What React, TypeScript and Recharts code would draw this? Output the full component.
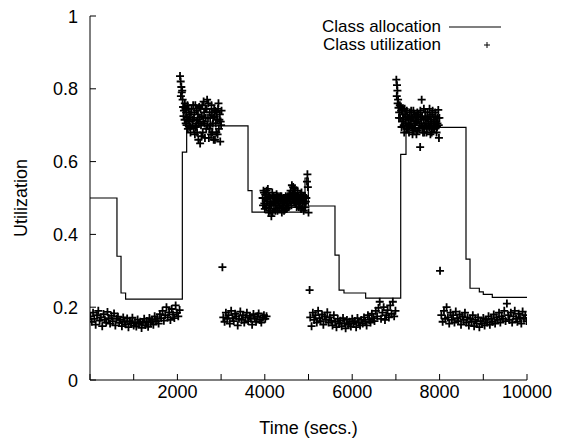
import { ComposedChart, Line, Scatter, XAxis, YAxis, Legend } from 'recharts';

const FONT = '"Liberation Sans", Arial, Helvetica, sans-serif';

// class allocation: step changes (time in secs, allocation share)
const allocTimes = [0, 617, 710, 815, 2113, 2212, 3616, 3707, 4920, 4996, 5606, 5700, 5812, 6308, 7110, 7231, 8604, 8696, 8909, 9000, 9206, 10000];
const allocValues = [0.5, 0.34, 0.239, 0.222, 0.626, 0.698, 0.52, 0.461, 0.555, 0.478, 0.343, 0.247, 0.239, 0.225, 0.62, 0.694, 0.332, 0.252, 0.242, 0.235, 0.227, 0.227];

// class utilization samples, [time, utilization]
const utilLow1: [number, number][] = [
  [10, 0.175], [40, 0.16], [70, 0.185], [100, 0.168], [130, 0.152], [160, 0.178], [190, 0.19], [220, 0.163],
  [250, 0.172], [280, 0.148], [310, 0.181], [340, 0.166], [370, 0.158], [400, 0.187], [430, 0.17], [460, 0.155],
  [490, 0.176], [520, 0.162], [550, 0.183], [580, 0.15], [610, 0.168], [640, 0.174], [670, 0.157], [700, 0.165],
  [730, 0.148], [760, 0.172], [790, 0.16], [820, 0.153], [850, 0.169], [880, 0.145], [910, 0.162], [940, 0.156],
  [970, 0.171], [1000, 0.15], [1030, 0.158], [1060, 0.147], [1090, 0.166], [1120, 0.154], [1150, 0.16], [1180, 0.143],
  [1210, 0.157], [1240, 0.168], [1270, 0.151], [1300, 0.162], [1330, 0.146], [1360, 0.17], [1390, 0.158], [1420, 0.165],
  [1450, 0.152], [1480, 0.175], [1510, 0.162], [1540, 0.168], [1570, 0.155], [1600, 0.181], [1630, 0.17], [1660, 0.19],
  [1690, 0.163], [1720, 0.178], [1750, 0.2], [1780, 0.172], [1810, 0.186], [1840, 0.165], [1870, 0.195], [1900, 0.18],
  [1930, 0.17], [1960, 0.205], [1990, 0.185], [2020, 0.175], [2050, 0.192],
];

const utilHigh1: [number, number][] = [
  [2060, 0.835], [2075, 0.82], [2090, 0.805], [2100, 0.79], [2080, 0.78], [2110, 0.795], [2120, 0.77], [2130, 0.75],
  [2150, 0.74], [2140, 0.725], [2170, 0.76], [2190, 0.705], [2200, 0.735], [2220, 0.72], [2240, 0.69], [2260, 0.745],
  [2280, 0.71], [2300, 0.68], [2310, 0.73], [2340, 0.7], [2360, 0.755], [2380, 0.72], [2400, 0.675], [2420, 0.695],
  [2440, 0.74], [2460, 0.715], [2480, 0.66], [2500, 0.75], [2520, 0.65], [2540, 0.7], [2560, 0.725], [2580, 0.68],
  [2600, 0.765], [2620, 0.705], [2640, 0.745], [2660, 0.69], [2680, 0.77], [2700, 0.72], [2720, 0.665], [2740, 0.735],
  [2760, 0.7], [2780, 0.755], [2800, 0.68], [2820, 0.72], [2840, 0.745], [2860, 0.66], [2880, 0.705], [2900, 0.735],
  [2920, 0.675], [2940, 0.76], [2960, 0.715], [2980, 0.655], [3000, 0.7], [3010, 0.74],
  [2165, 0.715], [2185, 0.745], [2210, 0.7], [2230, 0.755], [2250, 0.715], [2270, 0.73], [2290, 0.695], [2320, 0.745],
  [2350, 0.715], [2370, 0.69], [2390, 0.735], [2410, 0.755], [2430, 0.705], [2450, 0.68], [2470, 0.73], [2490, 0.705],
  [2510, 0.72], [2530, 0.745], [2550, 0.67], [2570, 0.755], [2590, 0.71], [2610, 0.735], [2630, 0.665], [2650, 0.72],
  [2670, 0.745], [2690, 0.7], [2710, 0.76], [2730, 0.69], [2750, 0.72], [2770, 0.675], [2790, 0.735], [2810, 0.705],
  [2830, 0.66], [2850, 0.725], [2870, 0.74], [2890, 0.68], [2910, 0.715], [2930, 0.745], [2950, 0.69], [2970, 0.73],
  [2990, 0.71],
];

const utilLow2: [number, number][] = [
  [3030, 0.31],
  [3050, 0.172], [3080, 0.16], [3110, 0.185], [3140, 0.168], [3170, 0.178], [3200, 0.155], [3230, 0.19], [3260, 0.17],
  [3290, 0.162], [3320, 0.182], [3350, 0.175], [3380, 0.15], [3410, 0.168], [3440, 0.188], [3470, 0.165], [3500, 0.178],
  [3530, 0.158], [3560, 0.172], [3590, 0.185], [3620, 0.162], [3650, 0.176], [3680, 0.168], [3710, 0.152], [3740, 0.181],
  [3770, 0.17], [3800, 0.16], [3830, 0.175], [3860, 0.183], [3890, 0.165], [3920, 0.158], [3950, 0.172], [3980, 0.178],
  [4010, 0.168], [4040, 0.175],
];

const utilMid: [number, number][] = [
  [3950, 0.5], [3970, 0.52], [3990, 0.485], [4010, 0.51], [4030, 0.475], [4050, 0.495], [4070, 0.525], [4090, 0.46],
  [4110, 0.505], [4130, 0.485], [4150, 0.45], [4170, 0.515], [4190, 0.49], [4210, 0.47], [4230, 0.5], [4250, 0.48],
  [4270, 0.51], [4290, 0.465], [4310, 0.495], [4330, 0.475], [4350, 0.505], [4370, 0.485], [4390, 0.46], [4410, 0.495],
  [4430, 0.48], [4450, 0.5], [4470, 0.47], [4490, 0.49], [4510, 0.485], [4530, 0.505], [4550, 0.475], [4570, 0.495],
  [4590, 0.52], [4610, 0.48], [4630, 0.51], [4650, 0.53], [4670, 0.49], [4690, 0.515], [4710, 0.5], [4730, 0.475],
  [4750, 0.52], [4770, 0.495], [4790, 0.485], [4810, 0.51], [4830, 0.47], [4850, 0.5], [4870, 0.49], [4890, 0.465],
  [4910, 0.485], [4930, 0.475], [4950, 0.5], [4965, 0.545], [4975, 0.565], [4985, 0.53], [5000, 0.46],
  [3960, 0.48], [3980, 0.515], [4000, 0.47], [4020, 0.5], [4040, 0.52], [4060, 0.49], [4080, 0.505], [4100, 0.48],
  [4120, 0.465], [4140, 0.5], [4160, 0.48], [4180, 0.46], [4200, 0.505], [4220, 0.49], [4240, 0.465], [4260, 0.495],
  [4280, 0.485], [4300, 0.505], [4320, 0.49], [4340, 0.47], [4360, 0.495], [4380, 0.505], [4400, 0.475], [4420, 0.5],
  [4440, 0.465], [4460, 0.49], [4480, 0.505], [4500, 0.47], [4520, 0.49], [4540, 0.5], [4560, 0.51], [4580, 0.49],
  [4600, 0.505], [4620, 0.535], [4640, 0.495], [4660, 0.51], [4680, 0.525], [4700, 0.485], [4720, 0.505], [4740, 0.49],
  [4760, 0.505], [4780, 0.475], [4800, 0.495], [4820, 0.49], [4840, 0.515], [4860, 0.475], [4880, 0.505], [4900, 0.49],
  [4920, 0.505], [4940, 0.49],
];

const utilLow3: [number, number][] = [
  [5025, 0.247],
  [5040, 0.172], [5070, 0.148], [5100, 0.185], [5130, 0.165], [5160, 0.178], [5190, 0.158], [5220, 0.19], [5250, 0.17],
  [5280, 0.162], [5310, 0.18], [5340, 0.152], [5370, 0.175], [5400, 0.166], [5430, 0.186], [5460, 0.158], [5490, 0.172],
  [5520, 0.163], [5550, 0.15], [5580, 0.178], [5610, 0.16], [5640, 0.145], [5670, 0.168], [5700, 0.155], [5730, 0.163],
  [5760, 0.148], [5790, 0.17], [5820, 0.156], [5850, 0.142], [5880, 0.165], [5910, 0.152], [5940, 0.16], [5970, 0.147],
  [6000, 0.168], [6030, 0.155], [6060, 0.162], [6090, 0.145], [6120, 0.17], [6150, 0.158], [6180, 0.15], [6210, 0.165],
  [6240, 0.155], [6270, 0.172], [6300, 0.16], [6330, 0.15], [6360, 0.178], [6390, 0.165], [6420, 0.158], [6450, 0.182],
  [6480, 0.17], [6510, 0.162], [6540, 0.19], [6570, 0.175], [6600, 0.198], [6630, 0.215], [6660, 0.168], [6690, 0.185],
  [6720, 0.2], [6750, 0.165], [6780, 0.178], [6810, 0.192], [6840, 0.172], [6870, 0.205], [6900, 0.182], [6930, 0.215],
  [6960, 0.175], [6990, 0.19],
];

const utilHigh2: [number, number][] = [
  [7010, 0.825], [7025, 0.81], [7035, 0.795], [7020, 0.78], [7050, 0.77], [7040, 0.76], [7060, 0.748], [7075, 0.735],
  [7090, 0.755], [7100, 0.72], [7120, 0.74], [7140, 0.71], [7160, 0.73], [7180, 0.7], [7200, 0.745], [7220, 0.715],
  [7240, 0.69], [7260, 0.725], [7280, 0.705], [7300, 0.68], [7320, 0.735], [7340, 0.7], [7360, 0.72], [7380, 0.675],
  [7400, 0.74], [7420, 0.705], [7440, 0.69], [7460, 0.725], [7480, 0.71], [7500, 0.685], [7520, 0.73], [7540, 0.7],
  [7555, 0.64], [7570, 0.72], [7590, 0.77], [7610, 0.695], [7630, 0.715], [7650, 0.68], [7670, 0.735], [7690, 0.705],
  [7710, 0.69], [7730, 0.72], [7750, 0.7], [7770, 0.745], [7790, 0.675], [7810, 0.71], [7830, 0.73], [7850, 0.69],
  [7870, 0.715], [7890, 0.7], [7910, 0.725], [7930, 0.68], [7950, 0.705], [7970, 0.742], [7985, 0.665], [7995, 0.72],
  [7070, 0.72], [7110, 0.75], [7130, 0.695], [7150, 0.745], [7170, 0.72], [7190, 0.68], [7210, 0.73], [7230, 0.705],
  [7250, 0.74], [7270, 0.69], [7290, 0.72], [7310, 0.7], [7330, 0.715], [7350, 0.74], [7370, 0.695], [7390, 0.72],
  [7410, 0.685], [7430, 0.73], [7450, 0.71], [7470, 0.675], [7490, 0.735], [7510, 0.715], [7530, 0.69], [7560, 0.74],
  [7580, 0.705], [7600, 0.725], [7620, 0.68], [7640, 0.745], [7660, 0.7], [7680, 0.72], [7700, 0.68], [7720, 0.735],
  [7740, 0.715], [7760, 0.695], [7780, 0.725], [7800, 0.705], [7820, 0.68], [7840, 0.74], [7860, 0.71], [7880, 0.69],
  [7900, 0.735], [7920, 0.71], [7940, 0.695], [7960, 0.72], [7980, 0.7],
];

const utilLow4: [number, number][] = [
  [8010, 0.3],
  [8040, 0.178], [8070, 0.16], [8100, 0.19], [8130, 0.168], [8160, 0.2], [8190, 0.172], [8220, 0.155], [8250, 0.185],
  [8280, 0.165], [8310, 0.178], [8340, 0.158], [8370, 0.188], [8400, 0.17], [8430, 0.162], [8460, 0.18], [8490, 0.152],
  [8520, 0.175], [8550, 0.165], [8580, 0.185], [8610, 0.158], [8640, 0.172], [8670, 0.15], [8700, 0.168], [8730, 0.16],
  [8760, 0.178], [8790, 0.148], [8820, 0.165], [8850, 0.155], [8880, 0.172], [8910, 0.145], [8940, 0.162], [8970, 0.155],
  [9000, 0.17], [9030, 0.15], [9060, 0.165], [9090, 0.158], [9120, 0.175], [9150, 0.152], [9180, 0.168], [9210, 0.16],
  [9240, 0.18], [9270, 0.155], [9300, 0.172], [9330, 0.165], [9360, 0.185], [9390, 0.158], [9420, 0.175], [9450, 0.168],
  [9480, 0.19], [9510, 0.162], [9540, 0.21], [9570, 0.178], [9600, 0.165], [9630, 0.185], [9660, 0.158], [9690, 0.175],
  [9720, 0.19], [9750, 0.168], [9780, 0.16], [9810, 0.182], [9840, 0.172], [9870, 0.155], [9900, 0.188], [9930, 0.168],
  [9960, 0.178], [9990, 0.162],
];

const xTicks = [0, 1000, 2000, 3000, 4000, 5000, 6000, 7000, 8000, 9000, 10000];
const xLabelled = [2000, 4000, 6000, 8000, 10000];
const yTicks = [0, 0.2, 0.4, 0.6, 0.8, 1];
const yLabels = ['0', '0.2', '0.4', '0.6', '0.8', '1'];

const allocData = allocTimes.map((t, i) => ({ t, v: allocValues[i] }));
const utilData = [...utilLow1, ...utilHigh1, ...utilLow2, ...utilMid, ...utilLow3, ...utilHigh2, ...utilLow4].map(([t, v]) => ({ t, v }));

const TICK = 6;

function BottomTick({ x, y, payload }: any) {
  const show = xLabelled.includes(payload.value);
  return (
    <g>
      <line x1={x} y1={y} x2={x} y2={y - TICK} stroke="#000" />
      {show && (
        <text x={x} y={y + 18} textAnchor="middle" fontSize={18} fontFamily={FONT} fill="#000">
          {payload.value}
        </text>
      )}
    </g>
  );
}

function TopTick({ x, y }: any) {
  return <line x1={x} y1={y} x2={x} y2={y + TICK} stroke="#000" />;
}

function LeftTick({ x, y, payload }: any) {
  const idx = yTicks.indexOf(payload.value);
  return (
    <g>
      <line x1={x} y1={y} x2={x + TICK} y2={y} stroke="#000" />
      <text x={x - 12} y={y + 6.5} textAnchor="end" fontSize={18} fontFamily={FONT} fill="#000">
        {yLabels[idx]}
      </text>
    </g>
  );
}

function RightTick({ x, y }: any) {
  return <line x1={x} y1={y} x2={x - TICK} y2={y} stroke="#000" />;
}

function Plus({ cx, cy }: any) {
  if (cx == null || cy == null) return <g />;
  return <path d={`M${cx - 4},${cy}h8M${cx},${cy - 4}v8`} stroke="#000" strokeWidth={1.8} fill="none" />;
}

function YTitle({ viewBox }: any) {
  const cx = 21;
  const cy = viewBox.y + viewBox.height / 2;
  return (
    <text x={cx} y={cy} transform={`rotate(-90 ${cx} ${cy})`} textAnchor="middle" dominantBaseline="central"
      fontSize={18} fontFamily={FONT} fill="#000">
      Utilization
    </text>
  );
}

function KeyBox() {
  const row = { display: 'flex', alignItems: 'center', height: 18 } as const;
  const label = { display: 'block', width: 441, height: 18, lineHeight: '18px', textAlign: 'right' } as const;
  return (
    <div style={{ fontFamily: FONT, fontSize: 17, color: '#000' }}>
      <div style={row}>
        <span style={label}>Class allocation</span>
        <svg width={62} height={18}>
          <line x1={8} x2={60} y1={9} y2={9} stroke="#000" strokeWidth={1.2} />
        </svg>
      </div>
      <div style={row}>
        <span style={label}>Class utilization</span>
        <svg width={62} height={18}>
          <path d="M43,9h6M46,6v6" stroke="#000" strokeWidth={1} />
        </svg>
      </div>
    </div>
  );
}

export default function App() {
  return (
    <div style={{ position: 'absolute', left: 0, top: 0, width: 565, height: 444, background: '#fff' }}>
      <ComposedChart width={565} height={444} margin={{ top: 16, right: 38, bottom: 0, left: 0 }}>
        <XAxis
          dataKey="t"
          type="number"
          domain={[0, 10000]}
          allowDataOverflow
          ticks={xTicks}
          interval={0}
          height={64}
          tickSize={0}
          tickMargin={0}
          tickLine={false}
          axisLine={{ stroke: '#000' }}
          tick={<BottomTick />}
          label={{ value: 'Time (secs.)', position: 'insideBottom', offset: 10, fontSize: 18, fontFamily: FONT, fill: '#000' }}
        />
        <XAxis
          xAxisId="top"
          orientation="top"
          dataKey="t"
          type="number"
          domain={[0, 10000]}
          allowDataOverflow
          ticks={xTicks}
          interval={0}
          height={0}
          tickSize={0}
          tickMargin={0}
          tickLine={false}
          axisLine={{ stroke: '#000' }}
          tick={<TopTick />}
        />
        <YAxis
          dataKey="v"
          type="number"
          domain={[0, 1]}
          allowDataOverflow
          ticks={yTicks}
          interval={0}
          width={90}
          tickSize={0}
          tickMargin={0}
          tickLine={false}
          axisLine={{ stroke: '#000' }}
          tick={<LeftTick />}
          label={{ content: <YTitle /> }}
        />
        <YAxis
          yAxisId="right"
          orientation="right"
          type="number"
          domain={[0, 1]}
          allowDataOverflow
          ticks={yTicks}
          interval={0}
          width={0}
          tickSize={0}
          tickMargin={0}
          tickLine={false}
          axisLine={{ stroke: '#000' }}
          tick={<RightTick />}
        />
        <Legend
          layout="vertical"
          align="center"
          verticalAlign="middle"
          wrapperStyle={{ position: 'absolute', top: 18, left: 0, width: 565, height: 36 }}
          content={() => <KeyBox />}
        />
        <Line
          data={allocData}
          dataKey="v"
          type="stepAfter"
          stroke="#000"
          strokeWidth={1.2}
          dot={false}
          activeDot={false}
          isAnimationActive={false}
        />
        <Scatter data={utilData} dataKey="v" shape={<Plus />} isAnimationActive={false} />
      </ComposedChart>
    </div>
  );
}
